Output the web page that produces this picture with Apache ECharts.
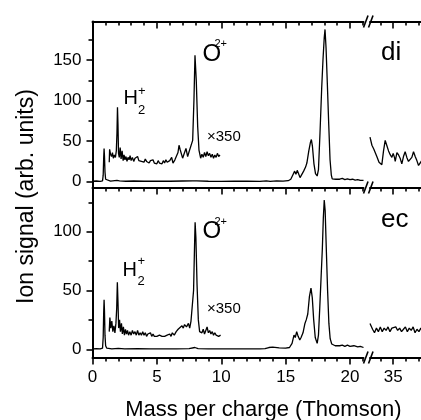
<!DOCTYPE html>
<html><head><meta charset="utf-8">
<script src="https://cdn.jsdelivr.net/npm/echarts@6/dist/echarts.min.js"></script>
<style>html,body{margin:0;padding:0;background:#fff}#c{width:421px;height:420px}</style>
</head><body><div id="c"></div>
<script>
// ---- axis ticks / labels ----
const xMajorLeft = [0, 5, 10, 15, 20];
const xMinorLeft = [1, 2, 3, 4, 6, 7, 8, 9, 11, 12, 13, 14, 16, 17, 18, 19, 21];
const xMajorRight = [35];
const xMinorRight = [34, 36, 37];
const yMajorTop = [0, 50, 100, 150];
const yMinorTop = [25, 75, 125, 175];
const yMajorBottom = [0, 50, 100];
const yMinorBottom = [25, 75, 125];
const xLeftRange = [0, 21.05];
const xRightRange = [33.2, 37.9];
const yTopRange = [-7.2, 197.8];
const yBottomRange = [-7.0, 137.6];

// ---- data: [mass per charge, signal] ----
const diMain = [[0,0.5],[0.3,0.8],[0.6,0.4],[0.78,1],[0.83,8],[0.87,30],[0.9,41],[0.93,32],[0.97,12],[1.02,3],[1.1,1],[1.4,0.6],[1.9,1.5],[2.0,2],[2.1,1],[2.6,0.5],[3.2,0.8],[4.0,0.5],[5.0,0.6],[6.0,0.5],[7.0,0.8],[7.8,1],[7.95,2.5],[8.1,1],[9.0,0.5],[10,0.4],[11,0.5],[12,0.5],[13,0.4],[13.5,0.9],[13.8,0.4],[14.3,1],[14.8,0.6],[15.2,1.2],[15.4,3],[15.55,8],[15.7,13],[15.8,9],[15.9,14],[16.0,10],[16.12,5],[16.25,7],[16.4,13],[16.55,18],[16.65,23],[16.8,38],[16.92,48],[17.0,52],[17.08,44],[17.2,22],[17.32,10],[17.45,7],[17.55,15],[17.67,60],[17.8,115],[17.9,150],[18.0,178],[18.06,188],[18.14,165],[18.24,121],[18.35,70],[18.45,27],[18.55,8],[18.62,3.5],[18.75,5],[18.9,3],[19.05,4.5],[19.2,3],[19.4,4],[19.6,2.5],[19.8,3.5],[20.0,2.5],[20.2,3],[20.4,2],[20.6,2.5],[20.8,1.5],[21.05,1.5]];
const diScaledLow = [[1.3,24],[1.33,40],[1.4,34],[1.48,31],[1.55,36],[1.62,29],[1.7,33],[1.78,30],[1.85,38],[1.9,60],[1.94,92],[1.98,70],[2.02,35],[2.08,30],[2.15,42],[2.22,28],[2.3,38],[2.38,26],[2.45,33],[2.52,27],[2.6,31],[2.68,25],[2.76,30],[2.84,27],[2.92,32],[3.0,26],[3.1,30],[3.2,25],[3.3,29],[3.4,27],[3.5,31],[3.6,26],[3.7,28],[3.8,25],[3.9,27],[4.0,24],[4.1,28],[4.2,25],[4.3,27],[4.4,23],[4.5,26],[4.6,24],[4.7,27],[4.8,23],[4.9,25],[5.0,22],[5.1,26],[5.2,23],[5.3,25],[5.4,22],[5.5,26],[5.6,23],[5.7,27],[5.8,24],[5.9,22],[6.0,26],[6.15,30],[6.25,23],[6.4,27],[6.54,26],[6.64,36],[6.72,45],[6.8,40],[6.87,40],[7.0,29],[7.13,35],[7.26,41],[7.39,31],[7.5,37],[7.65,39],[7.78,51],[7.88,101],[7.96,156],[8.06,125],[8.17,68],[8.27,39],[8.4,29],[8.5,34],[8.6,30],[8.7,36],[8.8,31],[8.9,37],[9.0,32],[9.1,35],[9.2,30],[9.3,34],[9.4,29],[9.5,33],[9.6,30],[9.7,35],[9.8,31],[9.9,33]];
const diScaledHigh = [[33.2,55],[33.35,45],[33.5,40],[33.73,31],[33.9,24],[34.0,22],[34.12,21],[34.25,38],[34.38,51],[34.5,45],[34.64,38],[34.78,33],[34.9,30],[35.0,35],[35.1,30],[35.16,25],[35.29,36],[35.42,33],[35.54,29],[35.67,22],[35.8,31],[35.93,37],[36.06,30],[36.19,25],[36.32,23],[36.45,30],[36.58,37],[36.71,31],[36.84,26],[36.97,20],[37.1,19],[37.3,28],[37.5,35],[37.7,28],[37.9,22]];
const ecMain = [[0,0.3],[0.3,0.5],[0.6,0.3],[0.78,1],[0.83,10],[0.87,32],[0.9,42],[0.93,33],[0.97,12],[1.02,3],[1.1,1],[1.5,0.4],[2.0,0.8],[2.5,0.3],[3.5,0.5],[4.5,0.3],[5.5,0.4],[6.5,0.3],[7.5,0.6],[7.95,1.5],[8.2,0.5],[9,0.4],[10,0.3],[11,0.4],[12,0.3],[13,0.4],[13.4,0.5],[13.5,2],[13.7,1.5],[14,1.8],[14.5,1.2],[15,1],[15.3,1.5],[15.5,5],[15.65,12],[15.75,10],[15.86,15],[15.97,11],[16.1,8],[16.2,10],[16.35,14],[16.5,22],[16.6,25],[16.72,30],[16.85,45],[16.97,52],[17.07,44],[17.18,25],[17.3,10],[17.45,5],[17.55,12],[17.65,35],[17.75,60],[17.85,85],[17.93,112],[18.0,127],[18.07,118],[18.16,85],[18.26,50],[18.36,22],[18.46,9],[18.58,4.5],[18.7,4],[18.85,3],[19.0,4],[19.2,3],[19.4,3.5],[19.6,2.5],[19.8,3.5],[20.0,2.5],[20.3,3],[20.6,2],[20.8,2.5],[21.05,1.5]];
const ecScaledLow = [[1.3,15],[1.35,27],[1.42,18],[1.5,24],[1.58,15],[1.66,20],[1.74,14],[1.82,22],[1.88,35],[1.93,57],[1.98,40],[2.03,18],[2.1,25],[2.17,15],[2.25,22],[2.32,13],[2.4,19],[2.48,12],[2.56,17],[2.64,13],[2.72,16],[2.8,12],[2.9,15],[3.0,12],[3.1,16],[3.2,13],[3.3,15],[3.4,12],[3.5,16],[3.6,12],[3.7,14],[3.8,12],[3.9,15],[4.0,12],[4.1,14],[4.2,11],[4.3,13],[4.4,12],[4.5,14],[4.6,11],[4.7,13],[4.8,11],[4.9,12],[5.0,11],[5.2,12],[5.4,11],[5.6,11],[5.8,12],[5.9,11],[6.0,13],[6.1,11],[6.2,14],[6.35,12],[6.5,15],[6.65,17],[6.8,16],[6.95,20],[7.05,18],[7.15,21],[7.3,19],[7.45,22],[7.55,18],[7.65,24],[7.75,23],[7.85,50],[7.93,90],[7.97,108],[8.03,95],[8.12,55],[8.22,25],[8.32,15],[8.42,16],[8.5,14],[8.6,17],[8.7,13],[8.8,16],[8.9,19],[9.0,14],[9.1,16],[9.2,13],[9.3,15],[9.4,12],[9.5,14],[9.6,12],[9.7,13],[9.8,11],[9.95,12]];
const ecScaledHigh = [[33.2,22],[33.3,21],[33.4,17],[33.55,14],[33.7,18],[33.85,15],[34.0,19],[34.15,15],[34.3,18],[34.45,16],[34.6,19],[34.75,15],[34.9,18],[35.05,17],[35.2,19],[35.35,16],[35.5,18],[35.65,15],[35.8,17],[35.95,19],[36.1,15],[36.25,18],[36.4,16],[36.55,19],[36.7,14],[36.85,17],[37.0,15],[37.15,18],[37.3,15],[37.5,17],[37.7,15],[37.9,17]];

// ---- layout ----
const FONT = 'Liberation Sans, Arial, Helvetica, sans-serif';
const PXU = 12.875;
const leftX = 92.5, rightX = 370;
const leftW = (xLeftRange[1] - xLeftRange[0]) * PXU;
const rightW = (xRightRange[1] - xRightRange[0]) * PXU;
const topY = 21.5, midY = 187.5, botY = 357.5;

const grids = [
  {left: leftX, top: topY, width: leftW, height: midY - topY},
  {left: rightX, top: topY, width: rightW, height: midY - topY},
  {left: leftX, top: midY, width: leftW, height: botY - midY},
  {left: rightX, top: midY, width: rightW, height: botY - midY}
].map(g => Object.assign(g, {containLabel: false, outerBoundsMode: 'none', show: false}));

const xAxes = [], yAxes = [], dataX = [], dataY = [];
function addX(grid, pos, range, major, minor, inside, labels) {
  const base = {gridIndex: grid, type: 'value', position: pos, min: range[0], max: range[1], splitLine: {show: false}};
  const idx = xAxes.length;
  xAxes.push(Object.assign({}, base, {
    axisLine: {show: true, onZero: false, lineStyle: {color: '#000', width: 2}},
    axisTick: {show: true, inside: inside, length: 7, customValues: major, lineStyle: {color: '#000', width: 1.6}},
    axisLabel: labels ? {show: true, customValues: major, margin: 11, color: '#000', fontSize: 17, fontFamily: FONT} : {show: false}
  }));
  xAxes.push(Object.assign({}, base, {
    axisLine: {show: false, onZero: false},
    axisTick: {show: true, inside: inside, length: 4, customValues: minor, lineStyle: {color: '#000', width: 1.6}},
    axisLabel: {show: false}
  }));
  return idx;
}
function addY(grid, range, major, minor, visible) {
  const base = {gridIndex: grid, type: 'value', position: 'left', min: range[0], max: range[1], splitLine: {show: false}};
  const idx = yAxes.length;
  if (!visible) {
    yAxes.push(Object.assign({}, base, {show: false}));
    return idx;
  }
  yAxes.push(Object.assign({}, base, {
    axisLine: {show: true, onZero: false, lineStyle: {color: '#000', width: 2}},
    axisTick: {show: true, inside: false, length: 6, customValues: major, lineStyle: {color: '#000', width: 1.6}},
    axisLabel: {show: true, customValues: major, margin: 11, color: '#000', fontSize: 17, fontFamily: FONT}
  }));
  yAxes.push(Object.assign({}, base, {
    axisLine: {show: false, onZero: false},
    axisTick: {show: true, inside: false, length: 4, customValues: minor, lineStyle: {color: '#000', width: 1.6}},
    axisLabel: {show: false}
  }));
  return idx;
}
// top-left
dataX[0] = addX(0, 'top', xLeftRange, xMajorLeft, xMinorLeft, true, false);
dataY[0] = addY(0, yTopRange, yMajorTop, yMinorTop, true);
// top-right
dataX[1] = addX(1, 'top', xRightRange, xMajorRight, xMinorRight, true, false);
dataY[1] = addY(1, yTopRange, [], [], false);
// bottom-left
dataX[2] = addX(2, 'bottom', xLeftRange, xMajorLeft, xMinorLeft, false, true);
addX(2, 'top', xLeftRange, xMajorLeft, xMinorLeft, true, false);
dataY[2] = addY(2, yBottomRange, yMajorBottom, yMinorBottom, true);
// bottom-right
dataX[3] = addX(3, 'bottom', xRightRange, xMajorRight, xMinorRight, false, true);
addX(3, 'top', xRightRange, xMajorRight, xMinorRight, true, false);
dataY[3] = addY(3, yBottomRange, [], [], false);

function line(data, g, w) {
  return {type: 'line', data: data, xAxisIndex: dataX[g], yAxisIndex: dataY[g], symbol: 'none', showSymbol: false,
    lineStyle: {color: '#000', width: w || 1.3}, clip: true, silent: true, animation: false};
}
const series = [
  line(diMain, 0), line(diScaledLow, 0), line(diScaledHigh, 1),
  line(ecMain, 2), line(ecScaledLow, 2), line(ecScaledHigh, 3)
];

function txt(t, x, y, size, extra) {
  return Object.assign({type: 'text', x: x, y: y, silent: true,
    style: {text: t, fill: '#000', font: size + 'px ' + FONT, align: 'left', verticalAlign: 'middle'}}, extra || {});
}
const breakX = leftX + leftW;
function breakMarks(y) {
  return [0, 5].map(d => ({type: 'line', silent: true,
    shape: {x1: breakX + d, y1: y + 6, x2: breakX + d + 4.5, y2: y - 6},
    style: {stroke: '#000', lineWidth: 1.6}}));
}
const graphics = [
  txt('Ion signal (arb. units)', 27, 196.5, 23, {rotation: Math.PI / 2, style: {text: 'Ion signal (arb. units)', fill: '#000', font: '23px ' + FONT, align: 'center', verticalAlign: 'middle'}}),
  txt('Mass per charge (Thomson)', 263.3, 409.5, 22, {style: {text: 'Mass per charge (Thomson)', fill: '#000', font: '22px ' + FONT, align: 'center', verticalAlign: 'middle'}}),
  // top panel labels
  txt('H', 123.5, 98.5, 20), txt('2', 138, 110, 13), txt('+', 138, 91, 13),
  txt('O', 202.5, 54, 24), txt('2+', 214.5, 43.5, 11),
  txt('\u00d7350', 207, 137, 15),
  txt('di', 381, 53, 26),
  // bottom panel labels
  txt('H', 122.5, 270.5, 20), txt('2', 137.5, 281.5, 13), txt('+', 137.5, 261.5, 13),
  txt('O', 202.5, 231.5, 24), txt('2+', 214.5, 221.5, 11),
  txt('\u00d7350', 207, 309, 15),
  txt('ec', 381, 220, 26)
].concat(breakMarks(topY), breakMarks(midY), breakMarks(botY));

const chart = echarts.init(document.getElementById('c'), null, {renderer: 'canvas'});
chart.setOption({
  backgroundColor: '#fff',
  animation: false,
  grid: grids,
  xAxis: xAxes,
  yAxis: yAxes,
  series: series,
  graphic: graphics
});
</script></body></html>
